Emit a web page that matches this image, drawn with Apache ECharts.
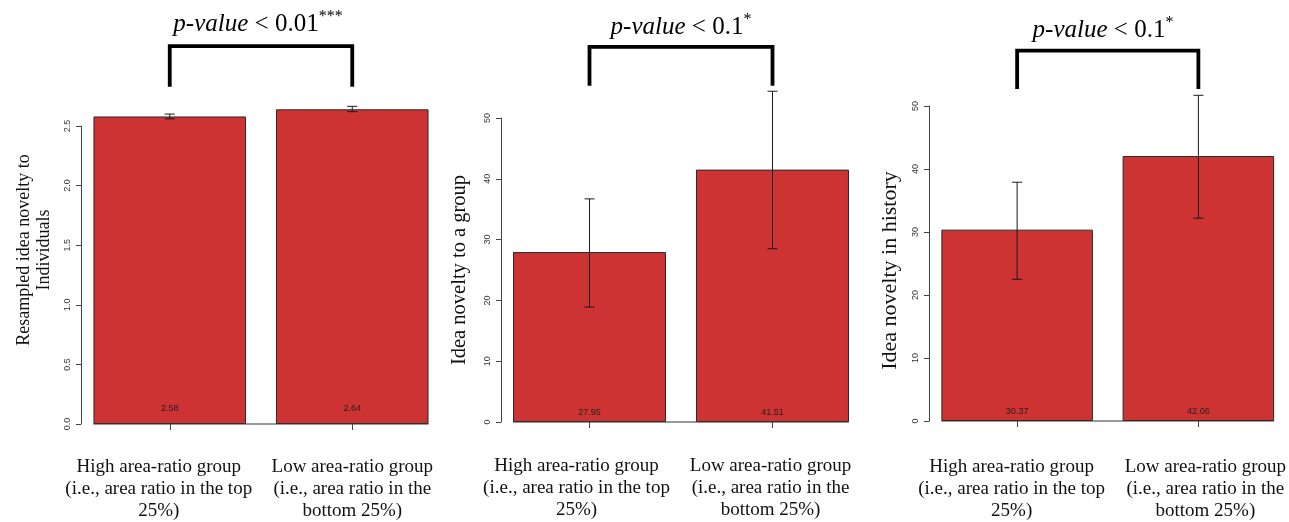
<!DOCTYPE html>
<html>
<head>
<meta charset="utf-8">
<script src="https://cdn.jsdelivr.net/npm/echarts@6/dist/echarts.min.js"></script>
<style>
html,body{margin:0;padding:0;background:#fff;}
#chart{width:1289px;height:522px;}
</style>
</head>
<body>
<div id="chart"></div>
<script>
// ---------- data ----------
const categories = [
  'High area-ratio group\n(i.e., area ratio in the top\n25%)',
  'Low area-ratio group\n(i.e., area ratio in the\nbottom 25%)'
];
const yNames = [
  'Resampled idea novelty to\nIndividuals',
  'Idea novelty to a group',
  'Idea novelty in history'
];
const pTexts = ['< 0.01', '< 0.1', '< 0.1'];
const pStars = ['***', '*', '*'];

const novIndividuals = [2.58, 2.64];
const novIndividualsErr = [[2.56, 2.60], [2.62, 2.665]];
const novGroup = [27.95, 41.51];
const novGroupErr = [[18.9, 36.7], [28.5, 54.4]];
const novHistory = [30.37, 42.06];
const novHistoryErr = [[22.5, 37.9], [32.2, 51.7]];

const yMax = [2.5, 50, 50];
const yInterval = [0.5, 10, 10];
const yDecimals = [1, 0, 0];
// bracket levels [bottom, top] in data units of each panel
const bracketLevels = [[2.83, 3.17], [55.3, 61.7], [52.7, 58.8]];

// ---------- layout / style ----------
const SERIF = '"Liberation Serif", "Times New Roman", serif';
const SANS = '"Liberation Sans", Arial, sans-serif';
const BAR_COLOR = '#CD3333';
const BAR_RATIO = 0.836;

const grids = [
  {left: 78.5, width: 365, top: 126, bottom: 97},
  {left: 498, width: 366, top: 118, bottom: 100},
  {left: 926.5, width: 364, top: 106, bottom: 98}
];
const axisOffsets = [-2.5, -3, -2.5];
const labelMargins = [32, 33, 35];
const labelPads = [[[0,22,0,0],[0,0,0,0]], [[0,26,0,0],[0,4,0,0]], [[0,11,0,0],[0,0,0,14]]];
const valueDist = [11, 5, 5];
const nameGaps = [27, 32, 30];
const nameLineHeights = [20, 18, 18];
const namePads = [[0,0,0,50], [0,0,0,0], [0,14,0,0]];
const nameSizes = [18, 20.5, 22];
const titleCenters = [253, 676, 1098];
const titleTops = [4, 7, 10];

const values = [novIndividuals, novGroup, novHistory];
const errs = [novIndividualsErr, novGroupErr, novHistoryErr];

function errRender(params, api) {
  const x = api.value(0);
  const lo = api.coord([x, api.value(1)]);
  const hi = api.coord([x, api.value(2)]);
  const cap = 5;
  const st = {stroke: '#1a1a1a', lineWidth: 1};
  return {type: 'group', children: [
    {type: 'line', shape: {x1: lo[0], y1: lo[1], x2: hi[0], y2: hi[1]}, style: st},
    {type: 'line', shape: {x1: lo[0]-cap, y1: lo[1], x2: lo[0]+cap, y2: lo[1]}, style: st},
    {type: 'line', shape: {x1: hi[0]-cap, y1: hi[1], x2: hi[0]+cap, y2: hi[1]}, style: st}
  ]};
}
function baseRender(params, api) {
  const a = api.coord([0, 0]);
  const b = api.coord([1, 0]);
  const half = api.size([1, 0])[0] * BAR_RATIO / 2;
  return {type: 'line', shape: {x1: a[0]-half, y1: a[1], x2: b[0]+half, y2: b[1]},
    style: {stroke: '#333', lineWidth: 1}};
}
function bracketRender(params, api) {
  const lo = api.value(1), hi = api.value(2);
  const a = api.coord([0, lo]), b = api.coord([0, hi]);
  const c = api.coord([1, hi]), d = api.coord([1, lo]);
  return {type: 'polyline', shape: {points: [a, b, c, d]},
    style: {stroke: '#000', lineWidth: 3.8, fill: null, lineJoin: 'miter'}};
}

const option = {
  animation: false,
  backgroundColor: '#fff',
  title: [], grid: [], xAxis: [], yAxis: [], series: []
};

for (let i = 0; i < 3; i++) {
  option.grid.push(Object.assign({containLabel: false}, grids[i]));
  option.title.push({
    left: titleCenters[i], top: titleTops[i], textAlign: 'center',
    text: '{i|p-value}{n| ' + pTexts[i] + '}{s|' + pStars[i] + '}',
    textStyle: {fontWeight: 'normal', rich: {
      i: {fontFamily: SERIF, fontStyle: 'italic', fontWeight: 'normal', fontSize: 25, color: '#000', verticalAlign: 'bottom', lineHeight: 28},
      n: {fontFamily: SERIF, fontWeight: 'normal', fontSize: 25, color: '#000', verticalAlign: 'bottom', lineHeight: 28},
      s: {fontFamily: SERIF, fontWeight: 'normal', fontSize: 16, color: '#000', verticalAlign: 'top', lineHeight: 16}
    }}
  });
  option.xAxis.push({
    type: 'category', gridIndex: i,
    data: categories.map((c, k) => ({value: c, textStyle: {padding: labelPads[i][k]}})),
    axisLine: {show: false},
    axisTick: {show: true, alignWithLabel: true, length: 6, lineStyle: {color: '#444'}},
    axisLabel: {interval: 0, margin: labelMargins[i], fontFamily: SERIF, fontSize: 19,
      lineHeight: 22, color: '#111'}
  });
  option.yAxis.push({
    type: 'value', gridIndex: i, min: 0, max: yMax[i], interval: yInterval[i],
    offset: axisOffsets[i],
    splitLine: {show: false},
    axisLine: {show: true, lineStyle: {color: '#444', width: 1}},
    axisTick: {show: true, length: 5, lineStyle: {color: '#444'}},
    axisLabel: {rotate: 90, margin: 9, fontFamily: SANS, fontSize: 9, color: '#333',
      formatter: v => v.toFixed(yDecimals[i])},
    name: yNames[i], nameLocation: 'middle', nameGap: nameGaps[i], nameRotate: 90,
    nameTextStyle: {fontFamily: SERIF, fontSize: nameSizes[i], color: '#111',
      lineHeight: nameLineHeights[i], padding: namePads[i]}
  });
  option.series.push({
    type: 'bar', xAxisIndex: i, yAxisIndex: i, data: values[i],
    barWidth: (BAR_RATIO * 100) + '%', clip: false,
    itemStyle: {color: BAR_COLOR, borderColor: '#2a2a2a', borderWidth: 1},
    label: {show: true, position: 'insideBottom', distance: valueDist[i],
      fontFamily: SANS, fontSize: 9, color: '#222', formatter: p => String(p.value)}
  });
  option.series.push({
    type: 'custom', xAxisIndex: i, yAxisIndex: i, clip: false, z: 5,
    data: [[0, 0]], renderItem: baseRender, silent: true
  });
  option.series.push({
    type: 'custom', xAxisIndex: i, yAxisIndex: i, clip: false, z: 6,
    data: errs[i].map((e, k) => [k, e[0], e[1]]),
    encode: {x: 0, y: [1, 2]},
    renderItem: errRender, silent: true
  });
  option.series.push({
    type: 'custom', xAxisIndex: i, yAxisIndex: i, clip: false, z: 6,
    data: [[0, bracketLevels[i][0], bracketLevels[i][1]]],
    encode: {x: 0, y: [1, 2]},
    renderItem: bracketRender, silent: true
  });
}

const chart = echarts.init(document.getElementById('chart'), null, {renderer: 'canvas'});
chart.setOption(option);
</script>
</body>
</html>
